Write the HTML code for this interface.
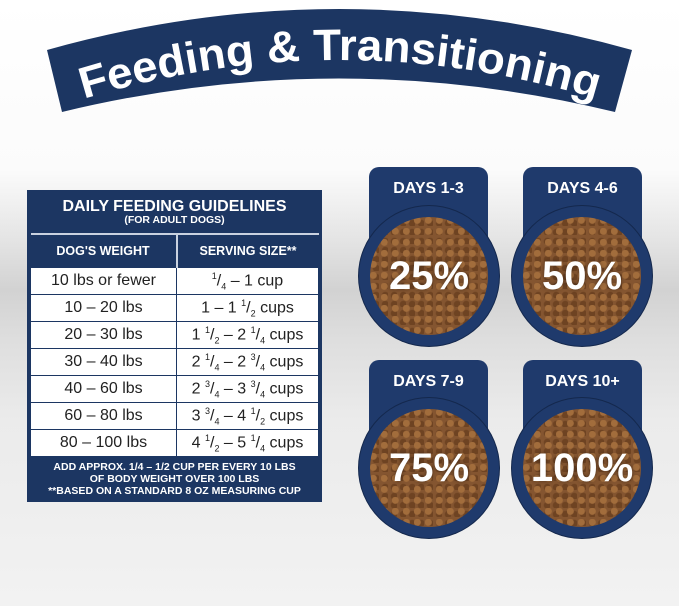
<!DOCTYPE html>
<html><head><style>
body{margin:0;width:679px;height:606px;overflow:hidden;font-family:"Liberation Sans",sans-serif;
background:linear-gradient(#fff 0,#fbfbfb 170px,#e4e4e4 240px,#d2d2d2 290px,#dedede 340px,#ebebeb 420px,#f2f2f2 606px);position:relative}
.t{position:absolute;left:27px;top:190px;width:295px;background:#1c3662;color:#fff}
table{border-collapse:collapse;width:289px;margin:0 3px;table-layout:fixed}
td{height:26px;border:1px solid #1c3662;background:#fff;color:#222;text-align:center;font-size:16px;padding:0}
th{height:30px;font-size:12.5px;font-weight:bold;border-right:2px solid #c9d2e0;border-top:2px solid #c9d2e0}
th:last-child{border-right:none}
.bowl{position:absolute;width:140px;height:140px;border-radius:50%;background:#1f3a6c;box-shadow:0 0 0 1px #14284d}
.food{position:absolute;left:11px;top:11px;width:118px;height:118px;border-radius:50%;
background:radial-gradient(circle at 30% 30%,#a26d3c 0 3px,transparent 4px) 0 0/11px 11px,radial-gradient(circle at 70% 70%,#6e4322 0 3px,transparent 4px) 0 0/9px 9px,#845530}
.card{position:absolute;width:119px;height:80px;background:#1f3a6c;border-radius:10px;color:#fff;font-weight:bold;font-size:16px;text-align:center;padding-top:13px;box-sizing:border-box}
.pct{position:absolute;width:140px;text-align:center;color:#fff;font-weight:900;font-size:40px;line-height:40px;text-shadow:0 0 4px rgba(0,0,0,.4)}
sup,sub{font-size:9px}
</style></head><body>
<svg style="position:absolute;left:0;top:0" width="679" height="130">
<path d="M47 50 Q339 -32 632 50 L615 112 Q339 45 62 112 Z" fill="#1c3662"/>
<path id="a" d="M80 100 Q339 20 600 100" fill="none"/>
<text font-family="Liberation Sans" font-weight="bold" font-size="44" fill="#fff" text-anchor="middle" textLength="520" lengthAdjust="spacingAndGlyphs"><textPath href="#a" startOffset="50%" textLength="520" lengthAdjust="spacingAndGlyphs">Feeding &amp; Transitioning</textPath></text>
</svg>
<div class="t">
<div style="text-align:center;font-weight:bold;font-size:16px;padding-top:9px;line-height:16px">DAILY FEEDING GUIDELINES</div>
<div style="text-align:center;font-weight:bold;font-size:10.5px;line-height:11px;padding-bottom:7px">(FOR ADULT DOGS)</div>
<table>
<colgroup><col style="width:146px"><col></colgroup>
<tr><th>DOG'S WEIGHT</th><th>SERVING SIZE**</th></tr>
<tr><td>10 lbs or fewer</td><td><sup>1</sup>/<sub>4</sub> – 1 cup</td></tr>
<tr><td>10 – 20 lbs</td><td>1 – 1 <sup>1</sup>/<sub>2</sub> cups</td></tr>
<tr><td>20 – 30 lbs</td><td>1 <sup>1</sup>/<sub>2</sub> – 2 <sup>1</sup>/<sub>4</sub> cups</td></tr>
<tr><td>30 – 40 lbs</td><td>2 <sup>1</sup>/<sub>4</sub> – 2 <sup>3</sup>/<sub>4</sub> cups</td></tr>
<tr><td>40 – 60 lbs</td><td>2 <sup>3</sup>/<sub>4</sub> – 3 <sup>3</sup>/<sub>4</sub> cups</td></tr>
<tr><td>60 – 80 lbs</td><td>3 <sup>3</sup>/<sub>4</sub> – 4 <sup>1</sup>/<sub>2</sub> cups</td></tr>
<tr><td>80 – 100 lbs</td><td>4 <sup>1</sup>/<sub>2</sub> – 5 <sup>1</sup>/<sub>4</sub> cups</td></tr>
</table>
<div style="text-align:center;font-weight:bold;font-size:10.5px;line-height:12px;padding:4px 0 5px">ADD APPROX. 1/4 – 1/2 CUP PER EVERY 10 LBS<br>OF BODY WEIGHT OVER 100 LBS<br>**BASED ON A STANDARD 8 OZ MEASURING CUP</div>
</div>

<div class="card" style="left:369px;top:167px">DAYS 1-3</div>
<div class="bowl" style="left:359px;top:206px"><div class="food"></div></div>
<div class="pct" style="left:359px;top:256px">25%</div>

<div class="card" style="left:523px;top:167px">DAYS 4-6</div>
<div class="bowl" style="left:512px;top:206px"><div class="food"></div></div>
<div class="pct" style="left:512px;top:256px">50%</div>

<div class="card" style="left:369px;top:360px">DAYS 7-9</div>
<div class="bowl" style="left:359px;top:398px"><div class="food"></div></div>
<div class="pct" style="left:359px;top:448px">75%</div>

<div class="card" style="left:523px;top:360px">DAYS 10+</div>
<div class="bowl" style="left:512px;top:398px"><div class="food"></div></div>
<div class="pct" style="left:512px;top:448px">100%</div>
</body></html>
